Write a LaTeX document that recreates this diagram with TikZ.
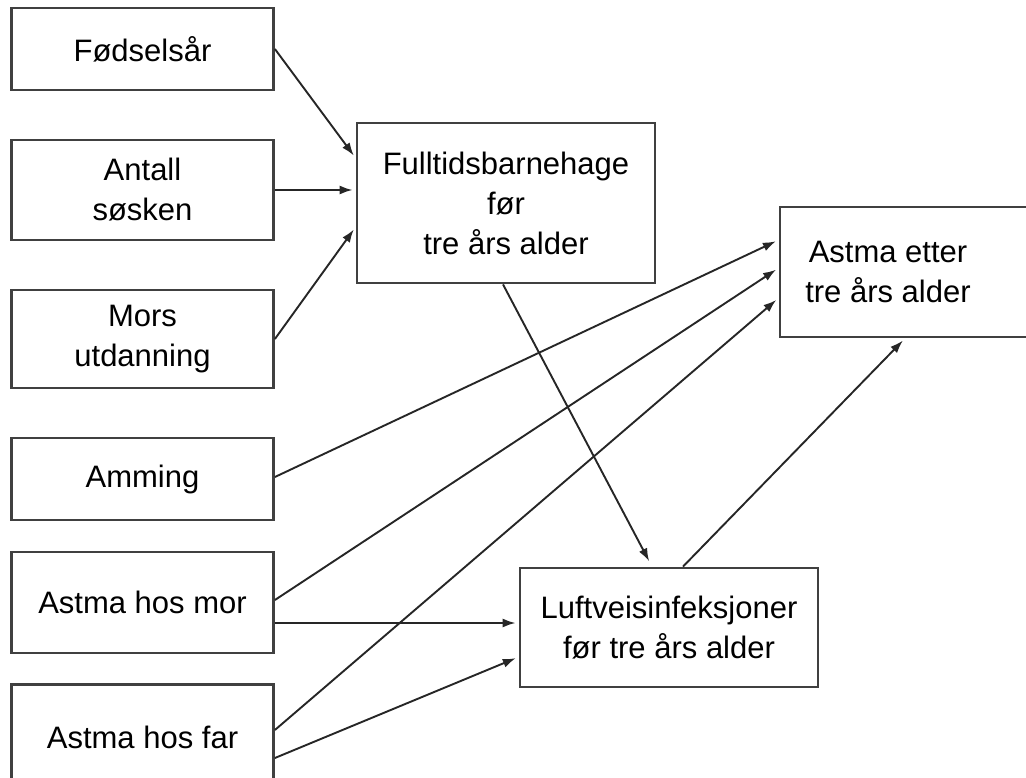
\documentclass[tikz,border=0pt]{standalone}
\usepackage{fontspec}
\setmainfont{Liberation Sans}
\usetikzlibrary{arrows.meta}

\tikzset{
  boks/.style={draw=black!75, line width=2.8pt, align=center, inner sep=0pt},
  venstre/.style={boks, minimum width=262pt},
  tekst/.style={align=center, inner sep=0pt},
  pil/.style={-{Latex[length=13pt,width=9pt]}, line width=1.9pt, black!85,
    shorten >=3pt}
}

\begin{document}
\begin{tikzpicture}[x=1pt,y=-1pt]
\fontsize{31}{40}\selectfont

\newcommand\LX{142.5}

  \useasboundingbox (0,0) rectangle (1026,778);

  %% left column
  \node[venstre, minimum height=82pt]  (fodsel)   at (\LX, 49)  {Fødselsår};
  \node[venstre, minimum height=100pt] (antall)   at (\LX, 190) {Antall\\søsken};
  \node[venstre, minimum height=98pt]  (mors)     at (\LX, 339) {Mors\\utdanning};
  \node[venstre, minimum height=82pt]  (amming)   at (\LX, 479) {Amming};
  \node[venstre, minimum height=101pt] (astmamor) at (\LX, 602.5) {Astma hos mor};
  \node[venstre, minimum height=105pt] (astmafar) at (\LX, 737) {Astma hos far};

  %% middle
  \node[boks, minimum width=298pt, minimum height=160pt] (barnehage) at (506, 203)
    {Fulltidsbarnehage\\før\\tre års alder};
  \node[boks, minimum width=298pt, minimum height=119pt] (luftvei) at (669, 627.5)
    {Luftveisinfeksjoner\\før tre års alder};

  %% right (box runs off the page)
  \node[boks, minimum width=260pt, minimum height=130pt] (astmaetter) at (910, 272) {};
  \node[tekst] (astmaetterlbl) at (888, 272) {Astma etter\\tre års alder};

  %% into barnehage
  \draw[pil] (fodsel.east) -- ([yshift=45pt]barnehage.west);
  \draw[pil] (antall.east) -- ([yshift=13pt]barnehage.west);
  \draw[pil] (mors.east) -- ([yshift=-24pt]barnehage.west);

  %% into astma etter
  \draw[pil] ([yshift=2pt]amming.east) -- ([yshift=32pt]astmaetter.west);
  \draw[pil] ([yshift=2.5pt]astmamor.east) -- ([yshift=4pt]astmaetter.west);
  \draw[pil] ([yshift=7pt]astmafar.east) -- ([yshift=-26pt]astmaetter.west);

  %% into luftvei
  \draw[pil] ([yshift=-20.5pt]astmamor.east) -- ([yshift=4.5pt]luftvei.west);
  \draw[pil] ([yshift=-21pt]astmafar.east) -- ([yshift=-29.5pt]luftvei.west);
  \draw[pil, shorten >=6pt] ([xshift=-3pt]barnehage.south) -- ([xshift=-17pt]luftvei.north);

  %% luftvei to astma etter
  \draw[pil] ([xshift=14pt]luftvei.north) -- ([xshift=-5pt]astmaetter.south);

\end{tikzpicture}
\end{document}
